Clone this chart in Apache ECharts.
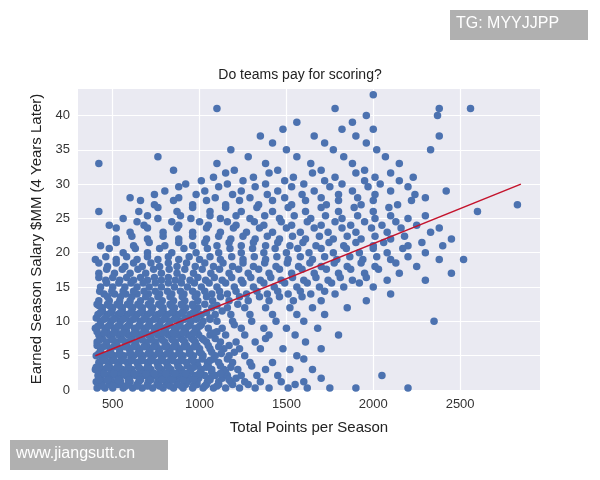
<!DOCTYPE html><html><head><meta charset="utf-8"><script src="https://cdn.jsdelivr.net/npm/echarts@6/dist/echarts.min.js"></script></head><body style="margin:0"><div id="c" style="width:600px;height:480px"></div><script>
const rowY=[0.3,0.8,1.2,1.7,2.1,2.6,3.0,3.5,4.0,4.5,5.0,5.5,6.0,6.5,7.0,7.5,8.0,8.5,9.0,9.5,10,10.5,11,11.5,12,12.5,13,14,15,16,17,18,19,20,21,22,23,24,25,26,27,28,29,30,31,32,33,34,35,36,37,38,39,40,41,43];
const rowX=[
[410,455,500,560,615,670,730,790,850,905,960,1020,1080,1150,1230,1320,1400,1510,1620,1750,1900,2200],
[425,480,530,590,640,700,755,810,870,920,985,1040,1110,1190,1280,1550],
[405,440,495,545,600,650,705,760,815,870,930,985,1045,1110,1180,1260,1350,1470,1600],
[430,485,540,595,655,710,770,825,880,940,995,1060,1130,1210,1700],
[415,470,520,575,630,690,745,800,860,915,975,1030,1090,1160,1240,1330,1450,2050],
[435,490,545,600,660,715,775,830,890,945,1005,1070,1150],
[400,450,505,555,610,665,720,780,835,895,950,1010,1070,1140,1220,1380,1520,1650],
[425,480,535,590,645,705,760,815,875,930,990,1050,1120,1300],
[420,475,530,585,640,700,755,810,870,925,985,1045,1110,1190,1290,1420],
[440,495,550,605,665,720,780,835,895,955,1015,1080,1160,1600],
[405,460,510,565,620,675,735,790,850,905,965,1020,1090,1170,1260,1560],
[430,485,540,600,655,715,770,830,885,945,1000,1070,1200],
[430,485,540,595,650,710,765,825,880,940,1000,1060,1140,1230,1350,1480,1700],
[410,465,525,580,635,695,750,810,865,925,985,1050,1170],
[410,465,520,575,630,690,745,800,860,915,975,1040,1120,1210,1320,1610],
[440,495,550,610,665,720,780,840,895,955,1015,1090,1380],
[420,480,535,590,645,705,760,820,875,935,995,1060,1150,1260,1400,1550,1800],
[410,465,520,580,635,690,750,805,865,920,985,1100],
[400,455,510,565,625,680,740,795,855,910,975,1050,1130,1240,1370,1500,1680],
[430,485,540,595,655,710,770,825,885,945,1010,1200],
[430,490,545,600,660,715,775,830,890,950,1020,1100,1190,1300,1440,1600,2350],
[405,460,515,570,630,685,745,800,860,920,985,1060],
[415,470,530,585,640,700,760,815,880,945,1010,1090,1180,1290,1420,1560,1720],
[440,495,555,610,670,725,790,850,910,975,1130],
[440,500,555,615,670,730,790,855,920,990,1070,1160,1260,1380,1520,1650,1850],
[410,470,525,585,645,705,765,830,895,960,1030,1220],
[420,480,540,600,660,720,785,850,915,990,1075,1170,1280,1400,1540,1700,1960],
[450,510,575,640,705,770,840,910,985,1070,1160,1270,1390,1510,1640,1780,2100],
[430,500,570,640,710,780,855,930,1010,1100,1200,1310,1430,1560,1690,1830,2000],
[460,540,620,700,780,860,945,1035,1130,1240,1350,1470,1600,1740,1880,2080,2300],
[420,510,600,690,780,870,965,1065,1170,1280,1400,1530,1660,1800,1950,2150,2450],
[470,570,670,770,870,975,1080,1190,1310,1440,1570,1700,1850,2010,2250],
[400,520,640,760,880,1000,1120,1250,1380,1510,1650,1790,1940,2100,2380,2520],
[560,700,840,980,1110,1240,1370,1500,1630,1770,1920,2080,2300],
[430,620,800,960,1100,1240,1380,1520,1670,1830,2000,2200,2400],
[520,700,880,1040,1180,1320,1460,1610,1770,1930,2100,2450],
[600,790,960,1120,1270,1420,1580,1740,1900,2080,2330],
[480,680,880,1050,1210,1370,1530,1700,1870,2050,2250],
[560,760,950,1120,1290,1460,1640,1820,2010,2200],
[420,650,870,1060,1240,1420,1610,1800,2000,2600],
[740,960,1150,1340,1530,1730,1930,2140,2830],
[600,880,1090,1290,1490,1700,1910,2300],
[800,1030,1240,1450,1660,1880,2100,2420],
[920,1160,1380,1600,1820,2040],
[1080,1310,1540,1780,2010,2230],
[850,1200,1450,1700,1950],
[420,1100,1380,1640,1880,2150],
[760,1280,1560,1830,2070],
[1180,1500,1770,2020,2330],
[1420,1720,1960],
[1350,1660,1900,2380],
[1480,1820,2000],
[1560,1880],
[1960,2370],
[1100,1780,2380,2560],
[2000]];
// additional irregular points read from the denser areas
const extraY=[13.6,14.4,15.6,16.4,17.6,18.5,19.4,20.6,21.5,22.4,23.6,24.5,25.4,26.6,27.6,28.5,29.6,30.5,31.6,0.6,1.5,2.4,3.3,4.3,5.3,6.3,7.3,8.3,9.3,10.3,11.3,12.3];
const extraX=[
[470,545,610,690,760,830,900,975,1040,1120,1230,1345,1460,1590],
[425,495,560,620,680,745,815,890,960,1030,1115,1210,1330,1450,1580,1720],
[465,535,605,675,745,820,895,970,1055,1150,1250,1370,1490,1620,1760,1920],
[420,500,580,660,740,820,900,990,1085,1185,1295,1410,1535,1670,1810,1960],
[465,555,645,735,825,915,1015,1115,1225,1340,1460,1590,1730,1870,2030],
[420,520,620,720,820,925,1030,1135,1250,1375,1505,1635,1775,1930,2130],
[460,580,700,820,940,1060,1185,1315,1445,1580,1720,1865,2020,2200],
[480,630,770,910,1045,1175,1305,1435,1565,1700,1845,2000,2170],
[520,710,880,1030,1170,1310,1450,1595,1745,1900,2060,2280],
[610,790,960,1110,1250,1390,1535,1690,1850,2010,2180],
[520,700,870,1040,1195,1345,1500,1660,1820,1990,2160,2380],
[640,840,1000,1160,1315,1470,1620,1780,1950,2130],
[700,890,1060,1210,1375,1545,1725,1910,2100,2300],
[760,960,1150,1330,1510,1700,1890,2090],
[660,850,1040,1230,1420,1610,1800,2000,2220],
[740,980,1190,1390,1590,1800,2010,2240],
[880,1110,1320,1530,1750,1970,2200],
[1010,1250,1490,1720,1950,2150],
[1150,1400,1650,1900,2100],
[440,500,575,640,700,770,830,895,965,1030,1100],
[420,470,530,590,660,720,785,845,905,965,1060,1170],
[450,505,570,625,690,740,805,860,920,1000,1120],
[405,470,525,590,650,700,765,820,880,965,1040,1180],
[445,505,560,610,670,725,785,845,900,960,1060],
[420,490,540,600,645,705,760,815,880,940,1010,1125],
[445,505,570,620,680,735,800,850,910,970,1110],
[425,500,555,605,670,725,785,845,905,965,1025],
[450,505,560,625,675,735,790,845,905,965,1080],
[415,475,530,585,650,705,760,815,880,935,1000],
[450,505,560,620,680,740,795,855,915,980,1060],
[430,490,545,605,660,720,780,840,900,965,1040],
[420,480,540,600,655,715,775,835,900,960,1100]];
const trendX=[400,2850], trendY=[5,30];
const xTicks=[500,1000,1500,2000,2500];
const pts=[];
rowY.forEach((y,i)=>rowX[i].forEach(x=>pts.push([x,y])));
extraY.forEach((y,i)=>extraX[i].forEach(x=>pts.push([x,y])));
const c=echarts.init(document.getElementById('c'));
c.setOption({backgroundColor:'#fff',animation:false,
title:{text:'Do teams pay for scoring?',left:'center',top:63,textStyle:{fontSize:14,fontWeight:'normal',color:'#222'}},
grid:{left:78,right:60,top:88,bottom:90},
xAxis:{type:'value',min:300,max:2960,name:'Total Points per Season',nameLocation:'middle',nameGap:30,nameTextStyle:{fontSize:15,color:'#222'},
axisLine:{show:false},axisTick:{show:false,customValues:xTicks},axisLabel:{customValues:xTicks,formatter:v=>String(v),fontSize:13,color:'#333'},splitLine:{show:true,lineStyle:{color:'#fff',width:1.2}}},
yAxis:{type:'value',min:0,max:44,interval:5,name:'Earned Season Salary $MM (4 Years Later)',nameLocation:'middle',nameGap:34,nameTextStyle:{fontSize:15,color:'#222'},
axisLine:{show:false},axisTick:{show:false},axisLabel:{fontSize:13,color:'#333',showMaxLabel:false},splitLine:{lineStyle:{color:'#fff',width:1.2}}},
graphic:[{type:'rect',shape:{x:78,y:88,width:462,height:302},style:{fill:'#EAEAF2'},z:-10,silent:true},
{type:'rect',shape:{x:450,y:10,width:138,height:30},style:{fill:'#b0b0b0'}},
{type:'text',x:456,y:16,style:{text:'TG: MYYJJPP',fill:'#fff',fontSize:16}},
{type:'rect',shape:{x:10,y:440,width:158,height:30},style:{fill:'#b0b0b0'}},
{type:'text',x:16,y:446,style:{text:'www.jiangsutt.cn',fill:'#fff',fontSize:16}}],
series:[{type:'scatter',data:pts,symbolSize:7.5,itemStyle:{color:'#4C72B0',opacity:1}},
{type:'line',data:trendX.map((x,i)=>[x,trendY[i]]),symbol:'none',lineStyle:{color:'#C4132C',width:1.5},z:5}]});
</script></body></html>
